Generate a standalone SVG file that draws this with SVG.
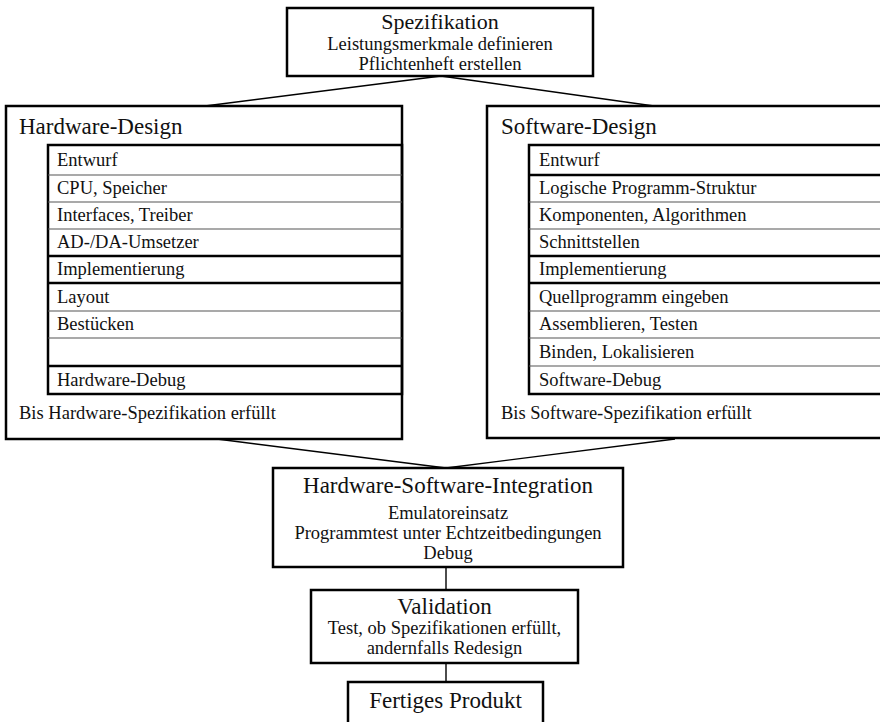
<svg xmlns="http://www.w3.org/2000/svg" width="880" height="722" viewBox="0 0 880 722">
  <style>
    text { font-family: "Liberation Serif", "Times New Roman", serif; fill: #111; }
    .title { font-size: 23px; }
    .body { font-size: 18.5px; }
    .mid { text-anchor: middle; }
    .box { fill: #fff; stroke: #000; stroke-width: 2.5; }
    .thick { stroke: #000; stroke-width: 2.5; fill: none; }
    .thin { stroke: #555; stroke-width: 1.2; fill: none; }
    .conn { stroke: #000; stroke-width: 1.4; fill: none; }
  </style>
  <rect width="880" height="722" fill="#fff"/>

  <!-- connectors -->
  <g id="connectors">
    <line class="conn" x1="441" y1="76" x2="205" y2="106"/>
    <line class="conn" x1="441" y1="76" x2="654" y2="106"/>
    <line class="conn" x1="217" y1="439" x2="446" y2="468"/>
    <line class="conn" x1="675" y1="439" x2="446" y2="468"/>
    <line class="conn" x1="446" y1="567" x2="446" y2="590"/>
    <line class="conn" x1="446" y1="663" x2="446" y2="682"/>
  </g>

  <!-- top specification -->
  <g id="spezifikation">
    <rect class="box" x="287" y="8" width="306" height="68"/>
    <text class="title mid" x="440" y="29" style="font-size:22px">Spezifikation</text>
    <text class="body mid" x="440" y="50">Leistungsmerkmale definieren</text>
    <text class="body mid" x="440" y="70">Pflichtenheft erstellen</text>
  </g>

  <!-- hardware design -->
  <g id="hardware-design">
    <rect class="box" x="6" y="106" width="396" height="333"/>
    <text class="title" x="19" y="134">Hardware-Design</text>
    <rect class="thick" x="48" y="145" width="354" height="249"/>
    <line class="thin" x1="48" y1="175" x2="402" y2="175"/>
    <line class="thin" x1="48" y1="202" x2="402" y2="202"/>
    <line class="thin" x1="48" y1="229" x2="402" y2="229"/>
    <line class="thick" x1="48" y1="256" x2="402" y2="256"/>
    <line class="thick" x1="48" y1="283" x2="402" y2="283"/>
    <line class="thin" x1="48" y1="311" x2="402" y2="311"/>
    <line class="thin" x1="48" y1="338" x2="402" y2="338"/>
    <line class="thick" x1="48" y1="366" x2="402" y2="366"/>
    <text class="body" x="57" y="166">Entwurf</text>
    <text class="body" x="57" y="194">CPU, Speicher</text>
    <text class="body" x="57" y="221">Interfaces, Treiber</text>
    <text class="body" x="57" y="248">AD-/DA-Umsetzer</text>
    <text class="body" x="57" y="275">Implementierung</text>
    <text class="body" x="57" y="303">Layout</text>
    <text class="body" x="57" y="330">Bestücken</text>
    <text class="body" x="57" y="386">Hardware-Debug</text>
    <text class="body" x="19" y="419">Bis Hardware-Spezifikation erfüllt</text>
  </g>

  <!-- software design -->
  <g id="software-design">
    <rect class="box" x="487" y="106" width="403" height="332"/>
    <text class="title" x="501" y="134">Software-Design</text>
    <rect class="thick" x="529" y="145" width="361" height="249"/>
    <line class="thick" x1="529" y1="175" x2="890" y2="175"/>
    <line class="thin" x1="529" y1="202" x2="890" y2="202"/>
    <line class="thin" x1="529" y1="229" x2="890" y2="229"/>
    <line class="thick" x1="529" y1="256" x2="890" y2="256"/>
    <line class="thick" x1="529" y1="283" x2="890" y2="283"/>
    <line class="thin" x1="529" y1="311" x2="890" y2="311"/>
    <line class="thin" x1="529" y1="338" x2="890" y2="338"/>
    <line class="thin" x1="529" y1="366" x2="890" y2="366"/>
    <text class="body" x="539" y="166">Entwurf</text>
    <text class="body" x="539" y="194">Logische Programm-Struktur</text>
    <text class="body" x="539" y="221">Komponenten, Algorithmen</text>
    <text class="body" x="539" y="248">Schnittstellen</text>
    <text class="body" x="539" y="275">Implementierung</text>
    <text class="body" x="539" y="303">Quellprogramm eingeben</text>
    <text class="body" x="539" y="330">Assemblieren, Testen</text>
    <text class="body" x="539" y="358">Binden, Lokalisieren</text>
    <text class="body" x="539" y="386">Software-Debug</text>
    <text class="body" x="501" y="419">Bis Software-Spezifikation erfüllt</text>
  </g>

  <!-- integration -->
  <g id="integration">
    <rect class="box" x="273" y="468" width="350" height="99"/>
    <text class="title mid" x="448" y="493">Hardware-Software-Integration</text>
    <text class="body mid" x="448" y="519">Emulatoreinsatz</text>
    <text class="body mid" x="448" y="539">Programmtest unter Echtzeitbedingungen</text>
    <text class="body mid" x="448" y="559">Debug</text>
  </g>

  <!-- validation -->
  <g id="validation">
    <rect class="box" x="311" y="590" width="267" height="73"/>
    <text class="title mid" x="444.5" y="614">Validation</text>
    <text class="body mid" x="444.5" y="634">Test, ob Spezifikationen erfüllt,</text>
    <text class="body mid" x="444.5" y="654">andernfalls Redesign</text>
  </g>

  <!-- finished product -->
  <g id="fertiges-produkt">
    <rect class="box" x="348" y="682" width="195" height="60"/>
    <text class="title mid" x="445.5" y="708">Fertiges Produkt</text>
  </g>
</svg>
